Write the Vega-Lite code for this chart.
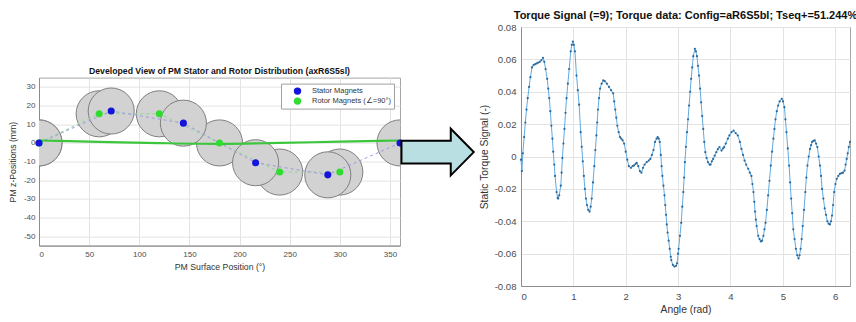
{
  "$schema": "https://vega.github.io/schema/vega-lite/v6.json",
  "background": "white",
  "padding": {"left": 7, "top": 9, "right": 0, "bottom": 0},
  "spacing": -1,
  "resolve": {"scale": {"color": "independent"}, "legend": {"color": "independent"}},
  "config": {
    "font": "Liberation Sans",
    "view": {"stroke": "#a6a6a6", "strokeWidth": 1},
    "axis": {"labelFont": "Liberation Sans", "titleFont": "Liberation Sans", "labelColor": "#4d4d4d", "titleColor": "#333333", "titleFontWeight": "normal", "gridColor": "#e3e3e3", "domainColor": "#8c8c8c", "ticks": false, "labelOverlap": false},
    "title": {"font": "Liberation Sans", "color": "#111111", "fontWeight": "bold", "anchor": "middle"}
  },
  "datasets": {
    "magnets": [
      {"pos": 0, "z": 0, "type": "Rotor Magnets (∠=90°)"},
      {"pos": 60, "z": 15.6, "type": "Rotor Magnets (∠=90°)"},
      {"pos": 120, "z": 15.6, "type": "Rotor Magnets (∠=90°)"},
      {"pos": 180, "z": 0, "type": "Rotor Magnets (∠=90°)"},
      {"pos": 240, "z": -15.6, "type": "Rotor Magnets (∠=90°)"},
      {"pos": 300, "z": -15.6, "type": "Rotor Magnets (∠=90°)"},
      {"pos": 0, "z": 0, "type": "Stator Magnets"},
      {"pos": 72, "z": 17.1, "type": "Stator Magnets"},
      {"pos": 144, "z": 10.6, "type": "Stator Magnets"},
      {"pos": 216, "z": -10.6, "type": "Stator Magnets"},
      {"pos": 288, "z": -17.1, "type": "Stator Magnets"},
      {"pos": 360, "z": 0, "type": "Stator Magnets"}
    ],
    "fit": [
      {"pos": 0, "z": 1.3}, {"pos": 60, "z": 0.6}, {"pos": 120, "z": -0.1}, {"pos": 180, "z": -0.5},
      {"pos": 240, "z": 0.0}, {"pos": 300, "z": 0.7}, {"pos": 360, "z": 1.3}
    ],
    "arrow": [{"pos": 397.5, "z": -4.9}],
    "spacer": [{"k": 1}],
    "torque": [
      {"a": 0.000, "t": -0.002}, {"a": 0.017, "t": -0.009}, {"a": 0.035, "t": 0.002}, {"a": 0.060, "t": 0.012},
      {"a": 0.083, "t": 0.021}, {"a": 0.105, "t": 0.029}, {"a": 0.128, "t": 0.036}, {"a": 0.155, "t": 0.043},
      {"a": 0.180, "t": 0.049}, {"a": 0.210, "t": 0.055}, {"a": 0.240, "t": 0.0565}, {"a": 0.270, "t": 0.057},
      {"a": 0.300, "t": 0.0575}, {"a": 0.330, "t": 0.058}, {"a": 0.360, "t": 0.0585}, {"a": 0.390, "t": 0.0595},
      {"a": 0.420, "t": 0.061}, {"a": 0.445, "t": 0.0585}, {"a": 0.470, "t": 0.054}, {"a": 0.500, "t": 0.048},
      {"a": 0.520, "t": 0.042}, {"a": 0.540, "t": 0.036}, {"a": 0.560, "t": 0.028}, {"a": 0.580, "t": 0.019},
      {"a": 0.600, "t": 0.011}, {"a": 0.615, "t": 0.003}, {"a": 0.635, "t": -0.005}, {"a": 0.650, "t": -0.012},
      {"a": 0.680, "t": -0.022}, {"a": 0.700, "t": -0.0255}, {"a": 0.710, "t": -0.026}, {"a": 0.730, "t": -0.024},
      {"a": 0.760, "t": -0.018}, {"a": 0.775, "t": -0.010}, {"a": 0.790, "t": -0.001}, {"a": 0.810, "t": 0.008},
      {"a": 0.830, "t": 0.017}, {"a": 0.850, "t": 0.027}, {"a": 0.870, "t": 0.036}, {"a": 0.895, "t": 0.045},
      {"a": 0.920, "t": 0.054}, {"a": 0.950, "t": 0.065}, {"a": 0.970, "t": 0.069}, {"a": 0.990, "t": 0.071},
      {"a": 1.010, "t": 0.069}, {"a": 1.030, "t": 0.065}, {"a": 1.060, "t": 0.050}, {"a": 1.085, "t": 0.041},
      {"a": 1.110, "t": 0.032}, {"a": 1.140, "t": 0.015}, {"a": 1.160, "t": 0.006}, {"a": 1.180, "t": -0.003},
      {"a": 1.200, "t": -0.012}, {"a": 1.220, "t": -0.020}, {"a": 1.240, "t": -0.026}, {"a": 1.260, "t": -0.030},
      {"a": 1.285, "t": -0.033}, {"a": 1.310, "t": -0.034}, {"a": 1.330, "t": -0.031}, {"a": 1.350, "t": -0.026},
      {"a": 1.375, "t": -0.016}, {"a": 1.400, "t": -0.006}, {"a": 1.420, "t": 0.004}, {"a": 1.440, "t": 0.013},
      {"a": 1.455, "t": 0.021}, {"a": 1.470, "t": 0.029}, {"a": 1.490, "t": 0.036}, {"a": 1.510, "t": 0.042},
      {"a": 1.540, "t": 0.045}, {"a": 1.570, "t": 0.047}, {"a": 1.600, "t": 0.0465}, {"a": 1.640, "t": 0.045},
      {"a": 1.680, "t": 0.043}, {"a": 1.720, "t": 0.041}, {"a": 1.760, "t": 0.039}, {"a": 1.780, "t": 0.034},
      {"a": 1.800, "t": 0.029}, {"a": 1.820, "t": 0.024}, {"a": 1.840, "t": 0.019}, {"a": 1.865, "t": 0.015},
      {"a": 1.890, "t": 0.012}, {"a": 1.915, "t": 0.011}, {"a": 1.940, "t": 0.010}, {"a": 1.970, "t": 0.008},
      {"a": 2.000, "t": 0.003}, {"a": 2.030, "t": -0.002}, {"a": 2.060, "t": -0.006}, {"a": 2.100, "t": -0.007},
      {"a": 2.130, "t": -0.006}, {"a": 2.160, "t": -0.0055}, {"a": 2.190, "t": -0.0045}, {"a": 2.210, "t": -0.004},
      {"a": 2.240, "t": -0.006}, {"a": 2.270, "t": -0.009}, {"a": 2.300, "t": -0.010}, {"a": 2.330, "t": -0.007},
      {"a": 2.360, "t": -0.005}, {"a": 2.400, "t": -0.0035}, {"a": 2.440, "t": -0.0025}, {"a": 2.470, "t": -0.0015},
      {"a": 2.500, "t": 0.001}, {"a": 2.530, "t": 0.004}, {"a": 2.560, "t": 0.009}, {"a": 2.590, "t": 0.011},
      {"a": 2.610, "t": 0.012}, {"a": 2.630, "t": 0.011}, {"a": 2.650, "t": 0.009}, {"a": 2.670, "t": 0.001},
      {"a": 2.685, "t": -0.006}, {"a": 2.700, "t": -0.012}, {"a": 2.720, "t": -0.018}, {"a": 2.740, "t": -0.024},
      {"a": 2.755, "t": -0.030}, {"a": 2.770, "t": -0.036}, {"a": 2.785, "t": -0.042}, {"a": 2.800, "t": -0.047},
      {"a": 2.820, "t": -0.052}, {"a": 2.840, "t": -0.057}, {"a": 2.860, "t": -0.062}, {"a": 2.870, "t": -0.064},
      {"a": 2.900, "t": -0.067}, {"a": 2.930, "t": -0.068}, {"a": 2.960, "t": -0.0675}, {"a": 2.980, "t": -0.066},
      {"a": 3.000, "t": -0.060}, {"a": 3.010, "t": -0.057}, {"a": 3.035, "t": -0.049}, {"a": 3.060, "t": -0.041},
      {"a": 3.080, "t": -0.031}, {"a": 3.100, "t": -0.022}, {"a": 3.115, "t": -0.013}, {"a": 3.130, "t": -0.0035},
      {"a": 3.150, "t": 0.006}, {"a": 3.170, "t": 0.015}, {"a": 3.190, "t": 0.023}, {"a": 3.210, "t": 0.0315},
      {"a": 3.230, "t": 0.040}, {"a": 3.250, "t": 0.048}, {"a": 3.270, "t": 0.055}, {"a": 3.290, "t": 0.062},
      {"a": 3.320, "t": 0.0665}, {"a": 3.340, "t": 0.065}, {"a": 3.360, "t": 0.062}, {"a": 3.380, "t": 0.056},
      {"a": 3.400, "t": 0.050}, {"a": 3.420, "t": 0.042}, {"a": 3.440, "t": 0.0335}, {"a": 3.460, "t": 0.025},
      {"a": 3.480, "t": 0.017}, {"a": 3.500, "t": 0.009}, {"a": 3.520, "t": 0.0027}, {"a": 3.545, "t": -0.001},
      {"a": 3.570, "t": -0.0035}, {"a": 3.600, "t": -0.005}, {"a": 3.620, "t": -0.005}, {"a": 3.645, "t": -0.003},
      {"a": 3.670, "t": -0.0015}, {"a": 3.700, "t": 0.0005}, {"a": 3.730, "t": 0.0027}, {"a": 3.760, "t": 0.0045},
      {"a": 3.790, "t": 0.0058}, {"a": 3.830, "t": 0.0037}, {"a": 3.860, "t": 0.005}, {"a": 3.880, "t": 0.0058},
      {"a": 3.910, "t": 0.008}, {"a": 3.950, "t": 0.011}, {"a": 3.980, "t": 0.013}, {"a": 4.020, "t": 0.015},
      {"a": 4.060, "t": 0.016}, {"a": 4.100, "t": 0.0145}, {"a": 4.140, "t": 0.013}, {"a": 4.180, "t": 0.009},
      {"a": 4.210, "t": 0.0047}, {"a": 4.240, "t": 0.001}, {"a": 4.270, "t": -0.0025}, {"a": 4.300, "t": -0.005},
      {"a": 4.340, "t": -0.0076}, {"a": 4.370, "t": -0.010}, {"a": 4.400, "t": -0.012}, {"a": 4.420, "t": -0.017},
      {"a": 4.440, "t": -0.022}, {"a": 4.455, "t": -0.028}, {"a": 4.470, "t": -0.034}, {"a": 4.485, "t": -0.039},
      {"a": 4.500, "t": -0.043}, {"a": 4.530, "t": -0.049}, {"a": 4.555, "t": -0.051}, {"a": 4.580, "t": -0.0525},
      {"a": 4.605, "t": -0.052}, {"a": 4.630, "t": -0.049}, {"a": 4.650, "t": -0.045}, {"a": 4.670, "t": -0.041},
      {"a": 4.695, "t": -0.033}, {"a": 4.720, "t": -0.024}, {"a": 4.745, "t": -0.015}, {"a": 4.770, "t": -0.0056},
      {"a": 4.795, "t": 0.003}, {"a": 4.820, "t": 0.011}, {"a": 4.840, "t": 0.017}, {"a": 4.860, "t": 0.023},
      {"a": 4.885, "t": 0.028}, {"a": 4.910, "t": 0.0315}, {"a": 4.940, "t": 0.034}, {"a": 4.980, "t": 0.0356},
      {"a": 5.005, "t": 0.034}, {"a": 5.030, "t": 0.0305}, {"a": 5.050, "t": 0.023}, {"a": 5.070, "t": 0.015},
      {"a": 5.095, "t": 0.005}, {"a": 5.120, "t": -0.0056}, {"a": 5.140, "t": -0.016}, {"a": 5.160, "t": -0.026},
      {"a": 5.180, "t": -0.035}, {"a": 5.200, "t": -0.045}, {"a": 5.225, "t": -0.051}, {"a": 5.250, "t": -0.057},
      {"a": 5.275, "t": -0.061}, {"a": 5.300, "t": -0.063}, {"a": 5.320, "t": -0.061}, {"a": 5.340, "t": -0.057},
      {"a": 5.360, "t": -0.051}, {"a": 5.380, "t": -0.043}, {"a": 5.405, "t": -0.033}, {"a": 5.430, "t": -0.022},
      {"a": 5.450, "t": -0.013}, {"a": 5.470, "t": -0.0056}, {"a": 5.495, "t": 0.000}, {"a": 5.520, "t": 0.0047},
      {"a": 5.540, "t": 0.007}, {"a": 5.560, "t": 0.009}, {"a": 5.585, "t": 0.0097}, {"a": 5.610, "t": 0.0099},
      {"a": 5.635, "t": 0.008}, {"a": 5.660, "t": 0.0058}, {"a": 5.685, "t": 0.000}, {"a": 5.710, "t": -0.0056},
      {"a": 5.730, "t": -0.012}, {"a": 5.750, "t": -0.020}, {"a": 5.775, "t": -0.026}, {"a": 5.800, "t": -0.032},
      {"a": 5.825, "t": -0.036}, {"a": 5.850, "t": -0.040}, {"a": 5.875, "t": -0.0415}, {"a": 5.900, "t": -0.042},
      {"a": 5.920, "t": -0.040}, {"a": 5.940, "t": -0.0365}, {"a": 5.960, "t": -0.030}, {"a": 5.980, "t": -0.022},
      {"a": 6.005, "t": -0.017}, {"a": 6.030, "t": -0.0138}, {"a": 6.060, "t": -0.012}, {"a": 6.090, "t": -0.0107},
      {"a": 6.120, "t": -0.0103}, {"a": 6.150, "t": -0.010}, {"a": 6.180, "t": -0.0087}, {"a": 6.200, "t": -0.005},
      {"a": 6.220, "t": -0.0015}, {"a": 6.240, "t": 0.002}, {"a": 6.260, "t": 0.0058}, {"a": 6.283, "t": 0.009}
    ]
  },
  "hconcat": [
    {
      "spacing": 32.6,
      "resolve": {"scale": {"color": "independent"}, "legend": {"color": "independent"}},
      "vconcat": [
        {
          "width": 361,
          "height": 1,
          "view": {"stroke": null},
          "data": {"name": "spacer"},
          "mark": {"type": "text"},
          "encoding": {"text": {"value": ""}}
        },
        {
          "width": 361,
          "height": 168,
          "title": {"text": "Developed View of PM Stator and Rotor Distribution (axR6S5sl)", "fontSize": 8.7, "offset": 2},
          "layer": [
            {
              "data": {"name": "magnets"},
              "mark": {"type": "point", "shape": "circle", "filled": true, "size": 2124, "fill": "#d2d2d2", "stroke": "#7f7f7f", "strokeWidth": 1, "opacity": 1, "fillOpacity": 1, "clip": true},
              "encoding": {
                "x": {"field": "pos", "type": "quantitative", "scale": {"domain": [0, 360], "nice": false, "zero": false},
                  "axis": {"values": [0, 50, 100, 150, 200, 250, 300, 350], "title": "PM Surface Position (°)", "labelFontSize": 8, "titleFontSize": 8.7, "labelPadding": 5, "titlePadding": 4, "grid": true, "labelOverlap": false}},
                "y": {"field": "z", "type": "quantitative", "scale": {"domain": [-55, 35], "nice": false, "zero": false},
                  "axis": {"tickCount": 9, "title": "PM z-Positions (mm)", "labelFontSize": 8, "titleFontSize": 8.7, "labelPadding": 4, "titlePadding": 6, "grid": true, "labelOverlap": false, "labelSeparation": 0, "labelFlush": false,
                    "labelExpr": "replace(format(datum.value, 'd'), '\u2212', '-')"}}
              }
            },
            {
              "data": {"name": "magnets"},
              "transform": [{"filter": "datum.type === 'Rotor Magnets (∠=90°)'"}],
              "mark": {"type": "line", "color": "#8fd88f", "strokeWidth": 1, "strokeDash": [3, 3], "clip": true},
              "encoding": {"x": {"field": "pos", "type": "quantitative"}, "y": {"field": "z", "type": "quantitative"}}
            },
            {
              "data": {"name": "magnets"},
              "transform": [{"filter": "datum.type === 'Stator Magnets'"}],
              "mark": {"type": "line", "color": "#9a9ae0", "strokeWidth": 1, "strokeDash": [3, 3], "clip": true},
              "encoding": {"x": {"field": "pos", "type": "quantitative"}, "y": {"field": "z", "type": "quantitative"}}
            },
            {
              "data": {"name": "fit"},
              "mark": {"type": "line", "color": "#3cc63c", "strokeWidth": 2.2, "interpolate": "monotone", "clip": true},
              "encoding": {"x": {"field": "pos", "type": "quantitative"}, "y": {"field": "z", "type": "quantitative"}}
            },
            {
              "data": {"name": "magnets"},
              "mark": {"type": "point", "shape": "circle", "filled": true, "size": 50, "opacity": 1},
              "encoding": {
                "x": {"field": "pos", "type": "quantitative"},
                "y": {"field": "z", "type": "quantitative"},
                "color": {"field": "type", "type": "nominal",
                  "scale": {"domain": ["Stator Magnets", "Rotor Magnets (∠=90°)"], "range": ["#1414dc", "#2fdc2f"]},
                  "legend": {"title": null, "orient": "top-right", "offset": 6, "labelFontSize": 7.5, "labelColor": "#333333", "symbolSize": 55, "symbolType": "circle", "strokeColor": "#a0a0a0", "fillColor": "white", "padding": 3, "symbolOffset": 9, "labelOffset": 10, "rowPadding": 1}}
              }
            },
            {
              "data": {"name": "arrow"},
              "mark": {"type": "point", "shape": "M-1,-0.314 L0.364,-0.314 L0.364,-0.646 L1,0 L0.364,0.646 L0.364,0.314 L-1,0.314 Z", "filled": true, "size": 5227, "fill": "#b9dfe3", "stroke": "#000000", "strokeWidth": 2, "opacity": 1, "clip": false},
              "encoding": {"x": {"field": "pos", "type": "quantitative"}, "y": {"field": "z", "type": "quantitative"}}
            }
          ]
        }
      ]
    },
    {
      "width": 329,
      "height": 259,
      "title": {"text": "Torque Signal (=9); Torque data: Config=aR6S5bl; Tseq+=51.244%", "fontSize": 11, "offset": 1.5},
      "data": {"name": "torque"},
      "encoding": {
        "x": {"field": "a", "type": "quantitative", "scale": {"domain": [0, 6.2832], "nice": false, "zero": false},
          "axis": {"values": [0, 1, 2, 3, 4, 5, 6], "title": "Angle (rad)", "labelFontSize": 9.6, "titleFontSize": 10.3, "labelPadding": 5, "titlePadding": 4, "grid": true, "labelOverlap": false}},
        "y": {"field": "t", "type": "quantitative", "scale": {"domain": [-0.08, 0.08], "nice": false, "zero": false},
          "axis": {"values": [-0.08, -0.06, -0.04, -0.02, 0, 0.02, 0.04, 0.06, 0.08], "title": "Static Torque Signal (-)", "labelFontSize": 9.6, "titleFontSize": 10.3, "labelPadding": 5, "titlePadding": 5, "grid": true, "labelOverlap": false,
            "labelExpr": "replace(format(datum.value, '.2~f'), '\u2212', '-')"}}
      },
      "layer": [
        {"mark": {"type": "line", "color": "#62aadf", "strokeWidth": 1}},
        {"mark": {"type": "point", "filled": true, "color": "#2d6a9c", "size": 5, "opacity": 1}}
      ]
    }
  ]
}
